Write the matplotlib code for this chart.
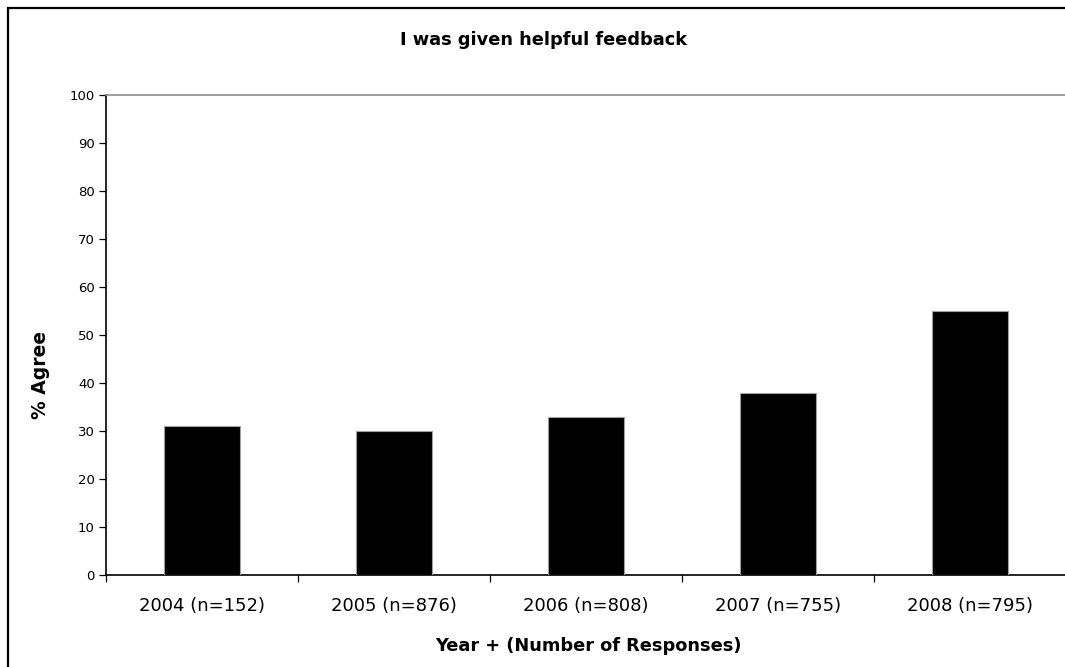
import matplotlib
matplotlib.use("Agg")
import matplotlib.pyplot as plt
from matplotlib.patches import Rectangle
from matplotlib.ticker import FixedLocator, NullFormatter

years = ["2004", "2005", "2006", "2007", "2008"]
responses = [152, 876, 808, 755, 795]
pct_agree = [31, 30, 33, 38, 55]
tick_labels = [f"{y} (n={n})" for y, n in zip(years, responses)]

W, H = 1065, 667
fig = plt.figure(figsize=(W / 100, H / 100), dpi=100)
fig.patch.set_facecolor("white")

# chart frame (runs off the right and bottom edges)
fig.add_artist(Rectangle((7.5 / W, -0.05), 1.2, 1 - 7.5 / H + 0.05,
                         transform=fig.transFigure, fill=False,
                         edgecolor="black", linewidth=1.6))

left, right, top, bottom = 106, 1066, 95, 575
ax = fig.add_axes([left / W, 1 - bottom / H, (right - left) / W, (bottom - top) / H])

x = list(range(len(years)))
ax.bar(x, pct_agree, width=0.4, color="black", edgecolor="#a0a0a0", linewidth=0.8, zorder=3)

ax.set_xlim(-0.5, len(years) - 0.5)
ax.set_ylim(0, 100)

# y axis
ax.set_yticks(range(0, 101, 10))
ax.tick_params(axis="y", direction="out", length=5, width=0.9, pad=3,
               labelsize=9.5, colors="black")

# x axis: tick marks between categories, labels at category centres
ax.xaxis.set_major_locator(FixedLocator([i + 0.5 for i in range(-1, len(years))]))
ax.xaxis.set_major_formatter(NullFormatter())
ax.xaxis.set_minor_locator(FixedLocator(x))
ax.set_xticklabels(tick_labels, minor=True)
ax.tick_params(axis="x", which="major", direction="out", length=5, width=0.9)
ax.tick_params(axis="x", which="minor", length=0, pad=16, labelsize=13)

for side in ("left", "bottom"):
    ax.spines[side].set_color("black")
    ax.spines[side].set_linewidth(1.2)
for side in ("top", "right"):
    ax.spines[side].set_color("#8c8c8c")
    ax.spines[side].set_linewidth(1.2)

fig.text(544 / W, 1 - 45 / H, "I was given helpful feedback", ha="center",
         va="baseline", fontsize=12.8, fontweight="bold")
fig.text(588 / W, 1 - 651 / H, "Year + (Number of Responses)", ha="center",
         va="baseline", fontsize=12.8, fontweight="bold")
fig.text(40 / W, 1 - 375 / H, "% Agree", ha="center", va="center",
         rotation=90, fontsize=13.5, fontweight="bold")

fig.savefig("out.png", dpi=100)
